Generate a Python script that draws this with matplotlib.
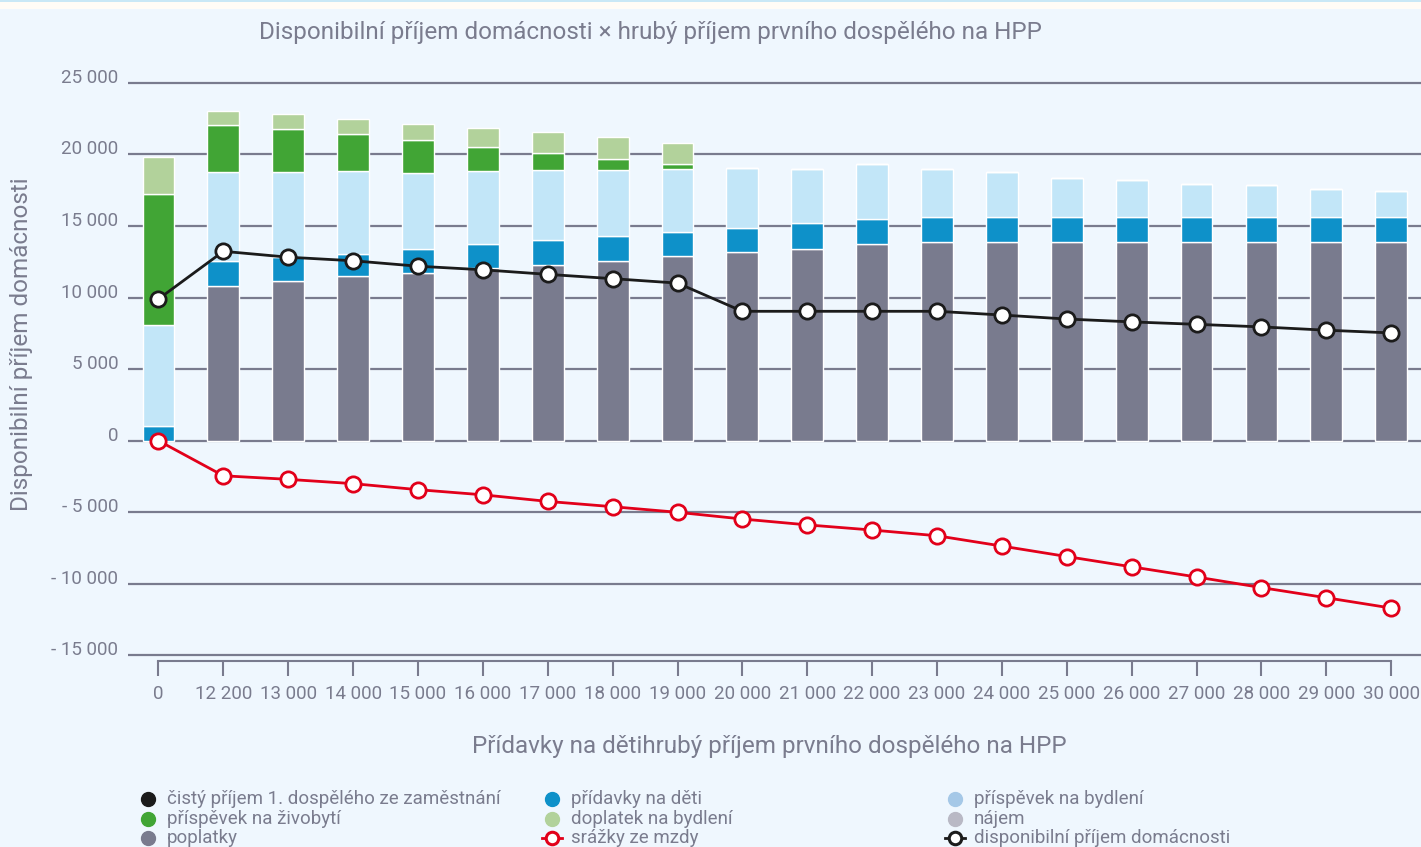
import matplotlib.pyplot as plt
from matplotlib.lines import Line2D
from matplotlib.patches import Rectangle
from matplotlib.transforms import ScaledTranslation

plt.rcParams["font.family"] = ["Roboto", "DejaVu Sans"]

# hrubý příjem prvního dospělého (kategorie na ose x)
INCOMES = ["0", "12 200", "13 000", "14 000", "15 000", "16 000", "17 000",
           "18 000", "19 000", "20 000", "21 000", "22 000", "23 000", "24 000",
           "25 000", "26 000", "27 000", "28 000", "29 000", "30 000"]

# výšky jednotlivých segmentů sloupců (Kč)
NET_WAGE = [0, 10830, 11130, 11480, 11750, 12030, 12240, 12540, 12870, 13170,
            13400, 13750, 13870, 13870, 13870, 13870, 13870, 13870, 13870, 13870]
CHILD_BENEFIT = [1000, 1740, 1690, 1530, 1620, 1720, 1760, 1735, 1690, 1670,
                 1780, 1735, 1780, 1780, 1780, 1780, 1780, 1780, 1780, 1780]
HOUSING_ALLOWANCE = [7100, 6200, 5960, 5820, 5360, 5080, 4900, 4620, 4410, 4220,
                     3800, 3850, 3340, 3130, 2710, 2570, 2290, 2220, 1950, 1800]
LIVING_ALLOWANCE = [9100, 3250, 2970, 2580, 2250, 1710, 1180, 810, 350, 0,
                    0, 0, 0, 0, 0, 0, 0, 0, 0, 0]
HOUSING_SUPPLEMENT = [2600, 1000, 1090, 1080, 1150, 1320, 1500, 1530, 1500, 0,
                      0, 0, 0, 0, 0, 0, 0, 0, 0, 0]

# čáry
DISPOSABLE = [9900, 13230, 12820, 12570, 12190, 11940, 11620, 11320, 11010, 9040,
              9040, 9040, 9040, 8780, 8500, 8300, 8130, 7950, 7720, 7530]
DEDUCTIONS = [0, -2450, -2700, -3000, -3420, -3780, -4240, -4610, -5000, -5470,
              -5880, -6240, -6640, -7360, -8090, -8810, -9520, -10260, -10970, -11690]

Y_TICKS = [-15000, -10000, -5000, 0, 5000, 10000, 15000, 20000, 25000]
Y_LABELS = ["- 15 000", "- 10 000", "- 5 000", "0", "5 000", "10 000",
            "15 000", "20 000", "25 000"]

BG = "#eff7fe"
TEXT = "#7a7c8e"
GRAY = "#797b8e"
BLUE = "#0e91c9"
LIGHTBLUE = "#c2e6f8"
GREEN = "#41a535"
LIGHTGREEN = "#b2d29b"
RENT = "#b9b9c5"
BLACK = "#1b1b1b"
RED = "#e2001a"

W, H = 1421, 847
fig = plt.figure(figsize=(W / 100, H / 100), dpi=100, facecolor=BG)
ax = fig.add_axes([128 / W, 1 - 661.3 / H, 1 - 128 / W, (661.3 - 60) / H])
ax.set_facecolor(BG)

x = list(range(len(INCOMES)))
segments = [(NET_WAGE, GRAY), (CHILD_BENEFIT, BLUE), (HOUSING_ALLOWANCE, LIGHTBLUE),
            (LIVING_ALLOWANCE, GREEN), (HOUSING_SUPPLEMENT, LIGHTGREEN)]
bottom = [0] * len(x)
for values, color in segments:
    ax.bar(x, values, bottom=bottom, width=0.49, color=color,
           edgecolor="white", linewidth=1.0, zorder=3)
    bottom = [b + v for b, v in zip(bottom, values)]

ax.plot(x, DISPOSABLE, color=BLACK, lw=2.0, marker="o", ms=11,
        mfc="white", mec=BLACK, mew=2.0, zorder=5)
ax.plot(x, DEDUCTIONS, color=RED, lw=2.0, marker="o", ms=11,
        mfc="white", mec=RED, mew=2.0, zorder=5)

ax.set_xlim(-0.47, 19.46)
ax.set_ylim(-15410, 26595)

ax.set_yticks(Y_TICKS)
ax.set_yticklabels(Y_LABELS)
ax.grid(axis="y", color=GRAY, lw=1.6, zorder=0)
ax.tick_params(axis="y", length=0, pad=7, labelsize=13.5, labelcolor=TEXT)
# popisky osy y sedí kousek nad mřížkou
offset = ScaledTranslation(0, 7 / 100, fig.dpi_scale_trans)
for lab in ax.get_yticklabels():
    lab.set_transform(lab.get_transform() + offset)

ax.set_xticks(x)
ax.set_xticklabels(INCOMES)
ax.tick_params(axis="x", direction="out", length=11, width=1.5, color=GRAY,
               pad=6, labelsize=13.5, labelcolor=TEXT)

for side in ["top", "right", "left"]:
    ax.spines[side].set_visible(False)
ax.spines["bottom"].set_color(GRAY)
ax.spines["bottom"].set_linewidth(1.5)
ax.spines["bottom"].set_bounds(0, 19)

# nadpis a popisky os
fig.text(650 / W, 1 - 33 / H,
         "Disponibilní příjem domácnosti × hrubý příjem prvního dospělého na HPP",
         ha="center", va="center", fontsize=17.5, color=TEXT)
fig.text(22 / W, 1 - 344 / H, "Disponibilní příjem domácnosti", rotation=90,
         ha="center", va="center", fontsize=17.5, color=TEXT)
fig.text(769 / W, 1 - 746 / H, "Přídavky na dětihrubý příjem prvního dospělého na HPP",
         ha="center", va="center", fontsize=17.5, color=TEXT)

# horní proužek
fig.add_artist(Rectangle((0, 1 - 9 / H), 1, 9 / H, transform=fig.transFigure,
                         facecolor="#fffcf6", edgecolor="none"))
fig.add_artist(Line2D([0, 1], [1 - 1 / H, 1 - 1 / H], transform=fig.transFigure,
                      color="#bfe4f7", lw=1.2))

# legenda (ručně, tři sloupce)
LEGEND = [
    (148, 799, "dot", BLACK, "čistý příjem 1. dospělého ze zaměstnání"),
    (148, 819, "dot", GREEN, "příspěvek na živobytí"),
    (148, 838, "dot", GRAY, "poplatky"),
    (552, 799, "dot", BLUE, "přídavky na děti"),
    (552, 819, "dot", LIGHTGREEN, "doplatek na bydlení"),
    (552, 838, "line", RED, "srážky ze mzdy"),
    (955, 799, "dot", "#a5c8e7", "příspěvek na bydlení"),
    (955, 819, "dot", RENT, "nájem"),
    (955, 838, "line", BLACK, "disponibilní příjem domácnosti"),
]
for px, py, kind, color, label in LEGEND:
    fx, fy = px / W, 1 - py / H
    if kind == "dot":
        fig.add_artist(Line2D([fx], [fy], transform=fig.transFigure, marker="o",
                              ms=10, mfc=color, mec=color, lw=0))
    else:
        fig.add_artist(Line2D([fx - 10 / W, fx + 10 / W], [fy, fy],
                              transform=fig.transFigure, color=color, lw=2.0))
        fig.add_artist(Line2D([fx], [fy], transform=fig.transFigure, marker="o",
                              ms=9, mfc="white", mec=color, mew=2.2, lw=0))
    fig.text(fx + 19 / W, fy, label, ha="left", va="center", fontsize=13.5, color=TEXT)

fig.savefig("out.png", dpi=100, facecolor=BG)
